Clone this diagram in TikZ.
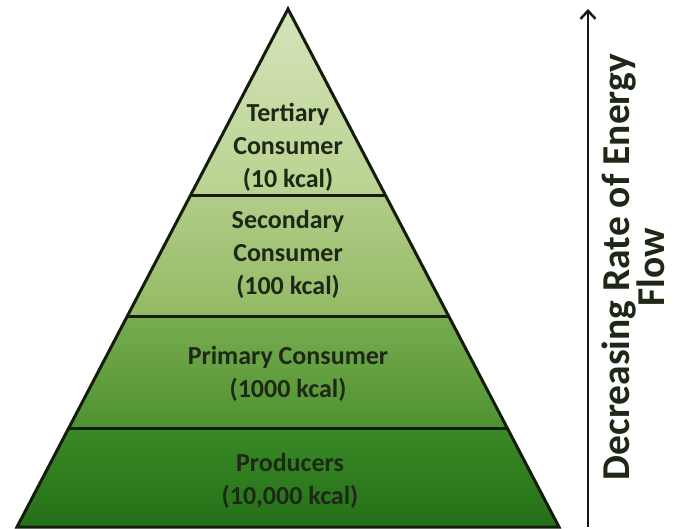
\documentclass[tikz,border=0pt]{standalone}
\usepackage{fontspec}
\setmainfont{Carlito}
\usepackage{tikz}
\usetikzlibrary{arrows.meta}
\tikzset{>=Latex}

\definecolor{tertTop}{RGB}{212,228,186}
\definecolor{tertBot}{RGB}{186,210,144}
\definecolor{secTop}{RGB}{178,204,136}
\definecolor{secBot}{RGB}{146,186,100}
\definecolor{primTop}{RGB}{120,172,80}
\definecolor{primBot}{RGB}{78,146,48}
\definecolor{prodTop}{RGB}{58,138,38}
\definecolor{prodBot}{RGB}{36,112,24}
\definecolor{edgeline}{RGB}{20,28,14}
\definecolor{labeltext}{RGB}{30,40,22}

\begin{document}
\begin{tikzpicture}[x=1pt,y=-1pt,
  level/.style={align=center,text=labeltext,inner sep=0pt,
    font=\fontsize{26}{33}\selectfont\bfseries},
  edge/.style={line width=3pt,draw=edgeline},
  sidelabel/.style={align=center,text=labeltext,inner sep=0pt,rotate=90,
    font=\fontsize{39.5}{35}\selectfont\bfseries}]
\useasboundingbox (0,0) rectangle (675,529);
% pyramid corners and layer borders
\coordinate (apex) at (288,9);
\coordinate (bl) at (17,527);
\coordinate (br) at (559,527);
\coordinate (l1) at (190.2,196); \coordinate (r1) at (385.8,196);
\coordinate (l2) at (126.9,317); \coordinate (r2) at (449.1,317);
\coordinate (l3) at (68.8,428);  \coordinate (r3) at (507.2,428);

% layer fills
\shade[top color=tertTop,bottom color=tertBot] (apex) -- (r1) -- (l1) -- cycle;
\shade[top color=secTop,bottom color=secBot] (l1) -- (r1) -- (r2) -- (l2) -- cycle;
\shade[top color=primTop,bottom color=primBot] (l2) -- (r2) -- (r3) -- (l3) -- cycle;
\shade[top color=prodTop,bottom color=prodBot] (l3) -- (r3) -- (br) -- (bl) -- cycle;

\draw[edge] (l1) -- (r1);
\draw[edge] (l2) -- (r2);
\draw[edge] (l3) -- (r3);
\draw[edge,line join=miter] (apex) -- (br) -- (bl) -- cycle;

% labels
\node[level] (tertiary) at (288,147) {Tertiary\\Consumer\\(10 kcal)};
\node[level] (secondary) at (288,254) {Secondary\\Consumer\\(100 kcal)};
\node[level] (primary) at (288,374) {Primary Consumer\\(1000 kcal)};
\node[level] (producers) at (290,481) {Producers\\(10,000 kcal)};

% energy arrow
\coordinate (flowlow) at (588,527);
\coordinate (flowhigh) at (588,9);
\draw[line width=2.5pt,draw=edgeline,-{Straight Barb[length=8pt,width=15pt]}] (flowlow) -- (flowhigh);
\node[sidelabel] (flow) at (633,267) {Decreasing Rate of Energy\\Flow};
\end{tikzpicture}
\end{document}
